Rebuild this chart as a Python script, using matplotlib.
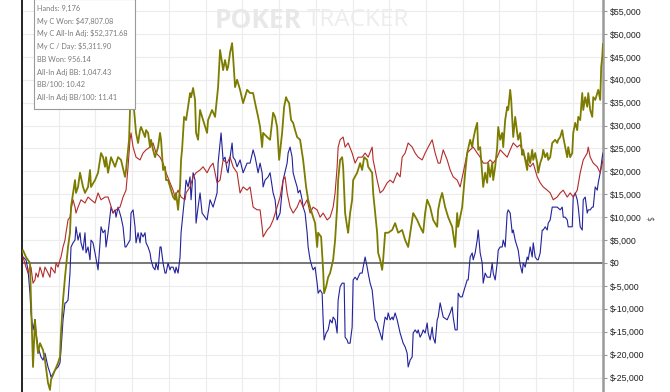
import numpy as np
import matplotlib
matplotlib.use("Agg")
from matplotlib import pyplot as plt
from matplotlib.ticker import MultipleLocator, FuncFormatter

# total won (olive)
won_hands = [0, 16, 63, 126, 142, 174, 205, 221, 253, 284, 332, 363, 411, 442, 458, 521, 569, 600, 616, 648,
             679, 727, 758, 774, 837, 853, 885, 916, 964, 995, 1043, 1074, 1090, 1153, 1201, 1248, 1280, 1311, 1327,
             1359, 1406, 1469, 1517, 1564, 1627, 1643, 1691, 1706, 1738, 1770, 1801, 1833, 1864, 1880, 1943, 1959,
             1991, 2022, 2038, 2070, 2101, 2149, 2180, 2196, 2228, 2259, 2275, 2307, 2338, 2354, 2386, 2417, 2433,
             2465, 2496, 2512, 2528, 2560, 2591, 2623, 2654, 2670, 2702, 2733, 2749, 2781, 2812, 2860, 2923, 2939,
             3002, 3049, 3097, 3128, 3160, 3176, 3207, 3239, 3255, 3286, 3318, 3334, 3365, 3397, 3444, 3492, 3555,
             3602, 3650, 3682, 3729, 3760, 3792, 3808, 3871, 3918, 3966, 3997, 4029, 4061, 4108, 4140, 4171, 4187,
             4219, 4250, 4282, 4313, 4345, 4392, 4424, 4440, 4487, 4519, 4550, 4598, 4629, 4661, 4677, 4724, 4756,
             4771, 4803, 4835, 4866, 4914, 4945, 4977, 4993, 5024, 5056, 5072, 5103, 5135, 5151, 5182, 5214, 5230,
             5293, 5340, 5372, 5404, 5451, 5467, 5530, 5546, 5577, 5609, 5625, 5656, 5688, 5704, 5735, 5783, 5846,
             5893, 5941, 6004, 6051, 6099, 6162, 6178, 6241, 6288, 6336, 6367, 6399, 6446, 6494, 6557, 6573, 6604,
             6636, 6683, 6731, 6794, 6841, 6873, 6889, 6952, 6999, 7031, 7078, 7110, 7126, 7157, 7189, 7205, 7236,
             7284, 7315, 7347, 7363, 7394, 7426, 7442, 7473, 7505, 7521, 7552, 7584, 7600, 7631, 7663, 7679, 7710,
             7726, 7758, 7789, 7821, 7837, 7868, 7900, 7916, 7947, 7979, 7995, 8026, 8058, 8074, 8105, 8137, 8153,
             8184, 8216, 8232, 8263, 8295, 8311, 8342, 8374, 8421, 8453, 8469, 8500, 8532, 8548, 8579, 8611, 8627,
             8658, 8690, 8706, 8737, 8769, 8785, 8816, 8848, 8864, 8895, 8927, 8943, 8974, 9006, 9022, 9053, 9085,
             9101, 9132, 9148, 9164, 9176]
won = [2200, 2800, 1300, 0, -8100, -22700, -12400, -15300, -19700, -17500, -19000, -21200, -26200, -27700, -25500,
       -23400, -21800, -20500, -15300, -8100, -3100, 3500, 6600, 12200, 18100, 15300, 16600, 19700, 16600, 15300,
       16600, 20300, 16600, 18100, 19700, 24000, 23100, 21000, 23100, 19700, 23100, 21000, 23100, 22500, 18800,
       20300, 26900, 33400, 36200, 33400, 28400, 26200, 29000, 29700, 27500, 29000, 28400, 25300, 26900, 24700,
       23100, 25300, 28400, 26900, 20300, 21000, 18100, 18100, 16600, 15900, 14400, 13800, 15300, 11600, 16600,
       22500, 24700, 31900, 31200, 34100, 37100, 36200, 38200, 35600, 28400, 26900, 33400, 31200, 28400, 31200,
       33400, 31900, 38400, 46500, 43700, 42100, 44300, 42100, 42800, 45900, 48000, 45000, 38400, 40000, 37800,
       34900, 37800, 37100, 37100, 34900, 31900, 29700, 25300, 28400, 27500, 26900, 32800, 31900, 29700, 22500,
       28400, 34100, 36200, 35600, 34900, 31200, 30600, 29000, 27500, 26900, 24000, 22500, 16600, 13800, 12200,
       10000, 8700, 3500, 6600, 5700, -1500, -6600, -5200, -3100, -2200, 700, 5000, 12200, 18100, 22500, 23100,
       21000, 10900, 7900, 6600, 10900, 13800, 18100, 19700, 21800, 20300, 23100, 22500, 21000, 19700, 15300,
       10900, 6600, 2200, 700, -1500, 700, 6600, 6600, 7200, 8700, 6600, 7200, 5000, 3500, 9400, 10900, 9400,
       7900, 6600, 10900, 13800, 12200, 9400, 7900, 11600, 13800, 15300, 12200, 10000, 7900, 3500, 10900, 7900,
       12200, 19700, 24000, 26900, 25300, 26900, 29000, 30600, 24700, 25300, 16600, 19700, 17500, 21800, 18800,
       21800, 18100, 21000, 25300, 29700, 26900, 28400, 25300, 31200, 34100, 33400, 37800, 35600, 27500, 31900,
       28400, 26900, 28400, 23600, 24700, 22500, 20300, 24000, 21800, 24700, 22500, 24000, 21800, 19700, 21800,
       23100, 24700, 23100, 24000, 22500, 23100, 26200, 26900, 26200, 26900, 27500, 29000, 27500, 25300, 23100,
       25300, 23100, 24000, 28400, 30600, 29000, 31900, 31200, 37100, 33400, 36200, 34100, 37100, 33400, 31900,
       36200, 35600, 37100, 37800, 35600, 42800, 45000, 47807]

# non-showdown (red)
red_hands = [16, 63, 95, 126, 142, 174, 205, 221, 253, 284, 300, 332, 363, 411, 442, 458, 521, 537, 569, 600, 616,
             648, 679, 695, 727, 758, 774, 806, 837, 853, 885, 932, 995, 1043, 1090, 1153, 1201, 1248, 1311, 1359,
             1390, 1438, 1485, 1548, 1596, 1643, 1675, 1706, 1722, 1754, 1801, 1864, 1912, 1959, 2022, 2070, 2117,
             2180, 2228, 2275, 2338, 2386, 2417, 2465, 2512, 2575, 2591, 2654, 2702, 2749, 2812, 2860, 2923, 2970,
             3018, 3081, 3128, 3176, 3239, 3286, 3334, 3397, 3444, 3492, 3555, 3602, 3650, 3713, 3760, 3792, 3808,
             3871, 3918, 3966, 4029, 4076, 4124, 4155, 4187, 4234, 4282, 4345, 4392, 4440, 4503, 4550, 4598, 4661,
             4708, 4756, 4819, 4866, 4914, 4945, 4977, 4993, 5024, 5072, 5103, 5151, 5214, 5261, 5309, 5372, 5419,
             5467, 5530, 5546, 5609, 5656, 5704, 5767, 5814, 5862, 5925, 5972, 6004, 6051, 6099, 6162, 6209, 6257,
             6320, 6367, 6415, 6478, 6525, 6573, 6604, 6652, 6715, 6762, 6810, 6873, 6920, 6968, 7031, 7078, 7126,
             7189, 7236, 7284, 7347, 7394, 7442, 7505, 7552, 7600, 7663, 7710, 7758, 7821, 7868, 7916, 7979, 8026,
             8074, 8137, 8184, 8232, 8295, 8342, 8390, 8453, 8500, 8548, 8611, 8658, 8706, 8769, 8816, 8864, 8927,
             8943, 8974, 9022, 9085, 9132, 9164, 9176]
red_won = [1300, -900, -2200, -900, -900, -4400, -3700, -2200, -3100, -900, -1500, -3100, -900, -2200, -3100, -900,
           -2200, 0, -900, 700, 1300, 3500, 5000, 6600, 9400, 10000, 11600, 13800, 12200, 10900, 12200, 13800, 13100,
           14400, 13800, 13100, 15300, 13800, 14400, 14400, 13100, 10900, 11600, 12200, 14400, 15900, 21000, 26900,
           28400, 25300, 23100, 22500, 24000, 24700, 25300, 26200, 24000, 23100, 21800, 19700, 17500, 15900, 14400,
           15900, 14400, 13800, 15300, 16600, 18800, 19700, 20300, 21000, 19700, 21000, 21800, 17500, 18100, 22500,
           21800, 23100, 21000, 19700, 15300, 16600, 15900, 16600, 12200, 11600, 11600, 7900, 5700, 7200, 7900, 9400,
           12200, 14400, 18100, 18800, 15300, 12200, 10900, 12200, 13800, 12200, 13800, 10900, 12200, 11600, 10000,
           10900, 9400, 10000, 12200, 15300, 21000, 25300, 26900, 27500, 25300, 26200, 24000, 21800, 23100, 23100,
           24000, 23100, 25300, 22500, 18100, 15300, 15900, 17500, 18100, 17500, 19700, 18800, 23100, 24000, 26200,
           25300, 24000, 23100, 22500, 24000, 25300, 26900, 24000, 21800, 21800, 24700, 22500, 20300, 18800, 18100,
           16600, 19700, 24000, 24700, 25300, 24000, 23100, 21800, 21800, 22500, 21800, 23100, 24700, 24000, 23100,
           24700, 26200, 25300, 25800, 24000, 21800, 21000, 21800, 18800, 17500, 16600, 15900, 15300, 13800, 14400,
           15300, 15900, 14400, 15300, 14400, 15900, 19700, 22500, 24000, 25300, 23100, 21800, 21000, 19700, 21800,
           22500]

# showdown (blue)
blue_hands = [16, 63, 95, 126, 142, 174, 205, 221, 253, 284, 300, 332, 363, 411, 442, 458, 521, 569, 600, 616, 648,
              679, 695, 727, 758, 774, 806, 837, 853, 885, 916, 932, 964, 995, 1011, 1043, 1074, 1090, 1122, 1153,
              1201, 1232, 1248, 1280, 1311, 1327, 1359, 1406, 1438, 1469, 1485, 1517, 1564, 1596, 1627, 1643, 1706,
              1722, 1754, 1785, 1801, 1833, 1864, 1880, 1912, 1943, 1959, 1991, 2022, 2038, 2070, 2101, 2117, 2149,
              2180, 2196, 2228, 2259, 2275, 2307, 2338, 2354, 2386, 2417, 2433, 2465, 2496, 2512, 2544, 2575, 2591,
              2623, 2654, 2670, 2702, 2733, 2749, 2781, 2812, 2844, 2891, 2923, 2970, 3018, 3081, 3097, 3144, 3176,
              3207, 3239, 3255, 3286, 3318, 3334, 3365, 3397, 3444, 3492, 3555, 3602, 3650, 3682, 3729, 3760, 3792,
              3808, 3839, 3887, 3918, 3966, 3997, 4029, 4076, 4124, 4187, 4203, 4234, 4266, 4282, 4313, 4345, 4361,
              4392, 4424, 4440, 4471, 4503, 4519, 4550, 4582, 4598, 4629, 4661, 4677, 4708, 4740, 4756, 4771, 4803,
              4835, 4866, 4898, 4914, 4945, 4977, 4993, 5024, 5056, 5088, 5103, 5135, 5151, 5182, 5214, 5230, 5261,
              5293, 5309, 5340, 5372, 5388, 5419, 5451, 5467, 5498, 5530, 5546, 5577, 5609, 5625, 5656, 5688, 5704,
              5735, 5767, 5783, 5814, 5846, 5862, 5893, 5925, 5972, 6004, 6020, 6051, 6083, 6099, 6130, 6162, 6178,
              6209, 6241, 6257, 6288, 6320, 6336, 6367, 6399, 6415, 6446, 6478, 6494, 6525, 6557, 6573, 6604, 6652,
              6715, 6762, 6794, 6810, 6841, 6873, 6889, 6920, 6952, 6968, 6999, 7031, 7047, 7078, 7110, 7126, 7157,
              7189, 7205, 7236, 7268, 7284, 7315, 7347, 7363, 7394, 7426, 7442, 7473, 7505, 7521, 7552, 7584, 7600,
              7631, 7663, 7679, 7710, 7742, 7758, 7789, 7821, 7837, 7868, 7900, 7916, 7947, 7979, 7995, 8026, 8058,
              8074, 8105, 8137, 8153, 8184, 8216, 8232, 8263, 8295, 8311, 8342, 8374, 8390, 8453, 8500, 8532, 8548,
              8579, 8611, 8627, 8658, 8690, 8706, 8737, 8769, 8785, 8816, 8848, 8864, 8895, 8927, 8943, 8974, 9006,
              9022, 9053, 9085, 9101, 9132, 9164, 9176]
blue_won = [1300, 700, -1500, -6600, -10900, -14600, -12400, -15300, -18300, -19700, -20500, -21200, -19700, -22700,
            -24000, -24900, -23400, -22700, -21800, -19000, -12400, -8700, -8700, -8100, -2200, 3500, 4400, 5000, 7900,
            5000, 6600, 4400, 2800, 6600, 2200, 3500, 700, 5000, 4400, 2200, -1500, 4400, 7900, 6600, 7200, 3500,
            6600, 12200, 10900, 11600, 10000, 12200, 10000, 7900, 3500, 3500, 5000, 10900, 11600, 7900, 4400, 6600,
            4400, 6600, 5700, 6600, 4400, 3500, 2200, 700, -900, -1500, 0, -1500, 3500, 3500, 0, -2200, -2200, 0,
            -1500, -900, -900, -2200, -900, -2200, 1300, 6600, 10900, 15300, 18100, 16600, 18800, 13800, 19700,
            18100, 8700, 12200, 15300, 10900, 10000, 9400, 13800, 12200, 15300, 21800, 28400, 22500, 23100, 20300,
            19700, 23100, 26200, 23100, 22500, 21000, 22500, 19700, 21800, 21800, 24700, 23100, 19700, 21800, 19700,
            16600, 18100, 18800, 19700, 15300, 13800, 9400, 10900, 18100, 21800, 24000, 25300, 23100, 19700, 18100,
            16600, 15300, 15900, 13800, 12200, 10900, 6600, 3500, 700, -900, -1500, -900, -4400, -6600, -5900, -6600,
            -12400, -16800, -15300, -14600, -12400, -13100, -11800, -12400, -15300, -8100, -5200, -4400, -4400,
            -16200, -16800, -17500, -17500, -14000, -3700, -3100, -3700, -3100, -2200, -2200, -900, 1300, -900, -2200,
            -4400, -5900, -8100, -12400, -13100, -14000, -15300, -16800, -14600, -11800, -12400, -10900, -12400,
            -11800, -12400, -10900, -12400, -15300, -16800, -17500, -18300, -19700, -22700, -21200, -20500, -15300,
            -14600, -15300, -14600, -16200, -15300, -14600, -15300, -13100, -15300, -16800, -14000, -16200, -17500,
            -12400, -11800, -8700, -11800, -12400, -10900, -9600, -11800, -14600, -14600, -6600, -7400, -7400, -6600,
            -5200, -3700, -3700, 1300, 2200, 700, 2200, 5000, 7200, 2200, 0, -4400, -2200, -3100, -3100, -3100, 0,
            -2200, -3700, 0, 2800, 3500, 3500, 5000, 3500, 10900, 11600, 10900, 6600, 7200, 5000, 3500, 2800, -400,
            -2200, 0, -900, 1300, 700, 3500, 1300, 4400, 1300, 700, 700, 2200, 7200, 7200, 7900, 7200, 8700, 9400,
            12200, 12200, 12200, 11600, 12200, 10000, 10000, 9400, 7900, 7900, 7900, 14400, 15300, 13800, 12200, 7900,
            7200, 13800, 14400, 10900, 11600, 11600, 12200, 12200, 16600, 15900, 17500, 19700, 23100, 24000]

stats = ["Hands: 9,176", "My C Won: $47,807.08", "My C All-In Adj: $52,371.68", "My C / Day: $5,311.90",
         "BB Won: 956.14", "All-In Adj BB: 1,047.43", "BB/100: 10.42", "All-In Adj BB/100: 11.41"]
yticks = np.arange(-25000, 55001, 5000)

fig = plt.figure(figsize=(6.7, 3.92), dpi=100)
ax = fig.add_axes([22/670, 0, (603-22)/670, 1])
ax.set_xlim(0, 9176)
ax.set_ylim(-28160, 57410)

ax.plot(blue_hands, blue_won, color="#22229c", lw=0.8, zorder=3)
ax.plot(red_hands, red_won, color="#b52b2b", lw=0.8, zorder=3)
ax.plot(won_hands, won, color="#7c7c00", lw=1.3, zorder=4)
ax.axhline(0, color="#777777", lw=1.4, zorder=2)

ax.xaxis.set_major_locator(MultipleLocator(580))
ax.set_yticks(yticks)
ax.yaxis.set_major_formatter(FuncFormatter(lambda v, p: "$" + format(int(v), ",")))
ax.grid(True, color="#ececec", lw=0.8, zorder=0)
ax.tick_params(axis="x", length=0, labelbottom=False)
ax.tick_params(axis="y", left=False, labelleft=False, right=True, labelright=True, length=3,
               color="#999999", labelsize=6.3, labelcolor="#222222", pad=2)
for lab in ax.get_yticklabels():
    lab.set_family("Liberation Sans")
for s in ["top", "bottom"]:
    ax.spines[s].set_visible(False)
ax.spines["left"].set_color("black")
ax.spines["left"].set_linewidth(1.2)
ax.spines["right"].set_color("#9a9a9a")
ax.spines["right"].set_linewidth(1.8)

# watermark
fig.text(215/670, 1 - 20/392, "POKER", fontsize=19, fontweight="bold", color="#e8e8e8",
         family="Open Sans", va="center", ha="left", zorder=1)
fig.text(307/670, 1 - 20/392, "TRACKER", fontsize=17.5, color="#ededed",
         family="Open Sans", va="center", ha="left", zorder=1)

# stats box
box = plt.Rectangle((34/670, 1 - 109/392), 101/670, 110/392, transform=fig.transFigure,
                    facecolor="white", edgecolor="#9a9a9a", lw=0.8, zorder=5)
fig.patches.append(box)
for i, s in enumerate(stats):
    fig.text(37/670, 1 - (8 + 12.8*i)/392, s, fontsize=5.3, color="#7a7a7a", family="Lato",
             va="center", ha="left", zorder=6)

fig.text(649/670, 1 - 218/392, "$", fontsize=5.5, color="#555555", rotation=270, va="center", ha="center")

fig.savefig("out.png", dpi=100)
